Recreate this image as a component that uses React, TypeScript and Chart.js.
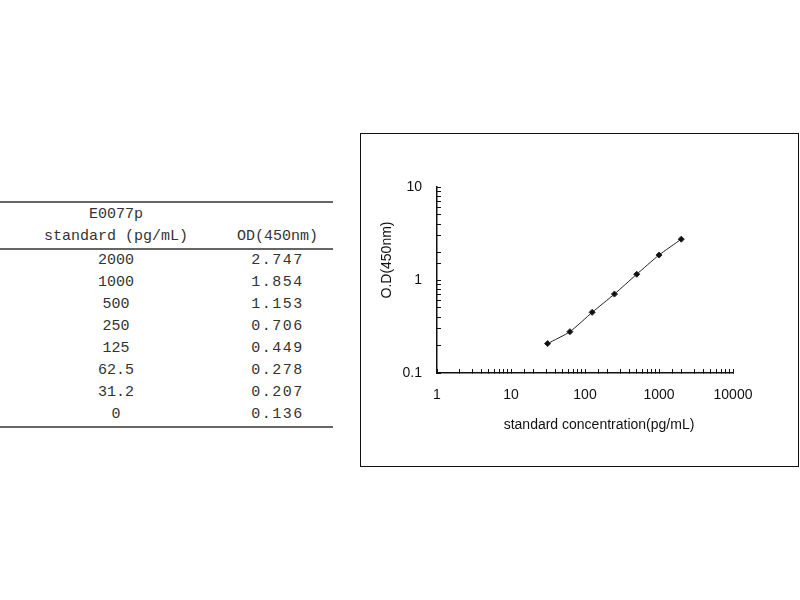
import { Chart, registerables } from "chart.js";
import { useEffect, useRef } from "react";

Chart.register(...registerables);

// dados da curva padrão
const standards = ["2000", "1000", "500", "250", "125", "62.5", "31.2", "0"];
const odValues = [2.747, 1.854, 1.153, 0.706, 0.449, 0.278, 0.207, 0.136];
const sampleName = "E0077p";
const xTitle = "standard concentration(pg/mL)";
const yTitle = "O.D(450nm)";

const isPow10 = (v: number) =>
  Math.abs(Math.log10(v) - Math.round(Math.log10(v))) < 1e-6;

const axisTitles = {
  id: "axisTitles",
  afterDraw(chart: any) {
    const { ctx, chartArea } = chart;
    ctx.save();
    ctx.fillStyle = "#111";
    ctx.font = "14px 'Liberation Sans', Arial, sans-serif";
    ctx.textAlign = "center";
    ctx.textBaseline = "middle";
    ctx.fillText(xTitle, (chartArea.left + chartArea.right) / 2 + 14, chartArea.bottom + 52);
    ctx.translate(chartArea.left - 50, (chartArea.top + chartArea.bottom) / 2 - 20);
    ctx.rotate(-Math.PI / 2);
    ctx.fillText(yTitle, 0, 0);
    ctx.restore();
  },
};

function StandardCurve() {
  const canvasRef = useRef<HTMLCanvasElement>(null);

  useEffect(() => {
    const ctx = canvasRef.current!.getContext("2d")!;
    // o ponto 0 não entra no gráfico log
    const points = standards
      .map((s, i) => ({ x: parseFloat(s), y: odValues[i] }))
      .filter((p) => p.x > 0);

    const tickLabel = (v: any) => {
      const n = Number(v);
      return isPow10(n) ? String(10 ** Math.round(Math.log10(n))) : "";
    };

    const myChart = new Chart(ctx, {
      type: "line",
      data: {
        datasets: [
          {
            data: points,
            borderColor: "#222",
            backgroundColor: "#111",
            borderWidth: 1,
            pointStyle: "rectRot",
            pointRadius: 3,
            tension: 0.2,
          },
        ],
      },
      options: {
        animation: false,
        responsive: false,
        layout: { padding: { top: 54, right: 66, left: 0, bottom: 0 } },
        plugins: { legend: { display: false }, tooltip: { enabled: false } },
        scales: {
          x: {
            type: "logarithmic",
            min: 1,
            max: 10000,
            afterFit: (s: any) => {
              s.height = 94;
            },
            grid: {
              drawOnChartArea: false,
              tickLength: -4,
              tickColor: "#111",
            },
            border: { color: "#111", width: 1.5 },
            ticks: {
              autoSkip: false,
              maxRotation: 0,
              padding: 18,
              color: "#111",
              font: { size: 14, family: "'Liberation Sans', Arial, sans-serif" },
              callback: tickLabel,
            },
          },
          y: {
            type: "logarithmic",
            min: 0.1,
            max: 10,
            afterFit: (s: any) => {
              s.width = 77;
            },
            grid: {
              drawOnChartArea: false,
              tickLength: -4,
              tickColor: "#111",
            },
            border: { color: "#111", width: 1.5 },
            ticks: {
              autoSkip: false,
              padding: 19,
              color: "#111",
              font: { size: 14, family: "'Liberation Sans', Arial, sans-serif" },
              callback: tickLabel,
            },
          },
        },
      },
      plugins: [axisTitles],
    });

    return () => {
      myChart.destroy();
    };
  }, []);

  return <canvas ref={canvasRef} width={439} height={334} />;
}

export default function App() {
  const cell = { height: 22, padding: 0, lineHeight: "22px" };
  const rule = "2px solid #666";
  return (
    <div
      style={{
        position: "absolute",
        left: 0,
        top: 0,
        width: 800,
        height: 600,
        background: "#fff",
        overflow: "hidden",
      }}
    >
      <table
        style={{
          position: "absolute",
          left: 0,
          top: 201,
          width: 333,
          borderCollapse: "collapse",
          fontFamily: "'Liberation Mono', 'DejaVu Sans Mono', monospace",
          fontSize: 15,
          color: "#333",
          tableLayout: "fixed",
        }}
      >
        <colgroup>
          <col style={{ width: 232 }} />
          <col style={{ width: 101 }} />
        </colgroup>
        <thead>
          <tr style={{ borderTop: rule, borderBottom: rule }}>
            <th style={{ fontWeight: "normal", padding: "1px 0 0", lineHeight: "22px", textAlign: "center" }}>
              {sampleName}
              <br />
              standard (pg/mL)
            </th>
            <th
              style={{
                fontWeight: "normal",
                padding: "0 10px 0 0",
                lineHeight: "22px",
                textAlign: "center",
                verticalAlign: "bottom",
              }}
            >
              OD(450nm)
            </th>
          </tr>
        </thead>
        <tbody>
          {standards.map((s, i) => (
            <tr key={s} style={i === standards.length - 1 ? { borderBottom: rule } : undefined}>
              <td style={{ ...cell, textAlign: "center" }}>{s}</td>
              <td style={{ ...cell, textAlign: "center", paddingRight: 10, letterSpacing: 1.5 }}>
                {odValues[i].toFixed(3)}
              </td>
            </tr>
          ))}
        </tbody>
      </table>

      <div style={{ position: "absolute", left: 360, top: 133 }}>
        <StandardCurve />
      </div>
      <div
        style={{
          position: "absolute",
          left: 360,
          top: 133,
          width: 439,
          height: 334,
          boxSizing: "border-box",
          border: "1.5px solid #111",
          pointerEvents: "none",
        }}
      />
    </div>
  );
}
